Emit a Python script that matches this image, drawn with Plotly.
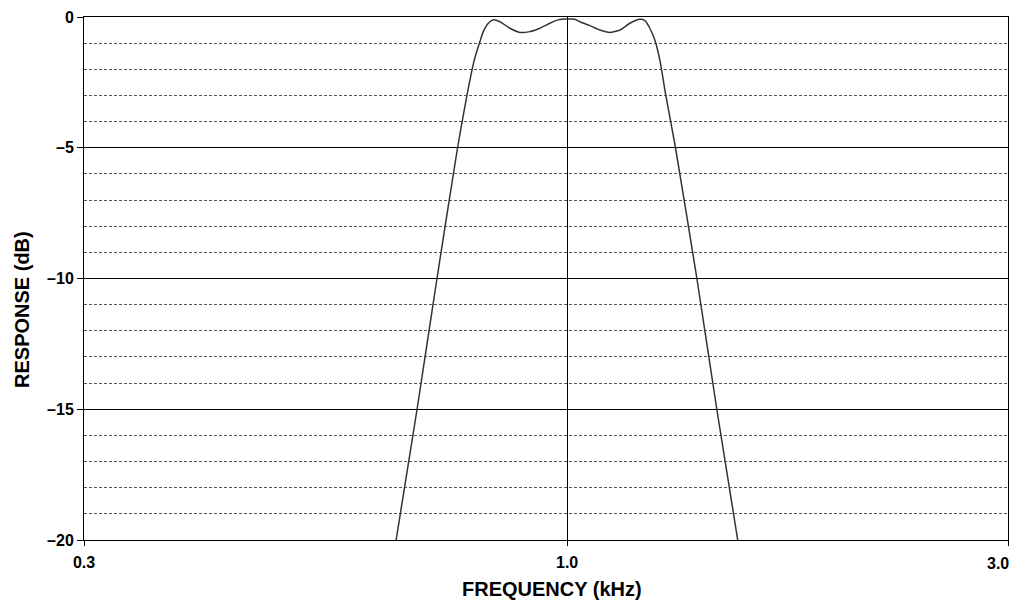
import numpy as np
import plotly.graph_objects as go

# filter response (frequency in kHz, response in dB)
freq_khz = [0.653, 0.688, 0.723, 0.761, 0.779, 0.7935, 0.8047, 0.8114, 0.8216, 0.8318,
            0.8457, 0.8671, 0.8889, 0.9113, 0.9343, 0.9578, 0.9778, 1.0, 1.0194,
            1.0321, 1.0582, 1.0849, 1.1122, 1.1403, 1.1692, 1.1986, 1.2136, 1.2288,
            1.2442, 1.2598, 1.2788, 1.3100, 1.3817, 1.4520, 1.5297]
response_db = [-20, -15, -10, -5, -3, -1.64, -0.94, -0.56, -0.24, -0.11,
               -0.18, -0.43, -0.59, -0.56, -0.43, -0.24, -0.11, -0.08, -0.09,
               -0.18, -0.33, -0.50, -0.59, -0.50, -0.24, -0.09, -0.14, -0.43,
               -0.88, -1.64, -3, -5, -10, -15, -20]

x_tickvals = [0.3, 1.0, 3.0]
x_ticktext = ['0.3', '1.0', '']  # 3.0 is drawn as an annotation so it stays inside the page
y_tickvals = [0, -5, -10, -15, -20]
y_ticktext = ['0', '\u20135', '\u201310', '\u201315', '\u201320']

font = 'Liberation Sans, Arial, sans-serif'

trace = go.Scatter(x=freq_khz, y=response_db, mode='lines',
                   line=dict(color='#333333', width=1.5, shape='spline', smoothing=0.5),
                   showlegend=False, hoverinfo='x+y')

layout = go.Layout(
    width=1015, height=601,
    margin=dict(l=84, r=7, t=17, b=61),
    paper_bgcolor='white', plot_bgcolor='white',
    xaxis=dict(type='log', range=[np.log10(0.3), np.log10(3.0)],
               tickvals=x_tickvals, ticktext=x_ticktext,
               showgrid=True, gridcolor='black', gridwidth=1,
               showline=True, linecolor='black', linewidth=1, mirror=True,
               ticks='outside', ticklen=5, tickcolor='black',
               tickfont=dict(family=font, size=16, color='black', weight='bold'),
               ticklabelstandoff=3, automargin=False,
               zeroline=False),
    yaxis=dict(range=[-20, 0], tickvals=y_tickvals, ticktext=y_ticktext,
               showgrid=True, gridcolor='black', gridwidth=1,
               minor=dict(tick0=0, dtick=1, showgrid=True, gridcolor='#555555',
                          griddash='3px,2px', gridwidth=1, ticks=''),
               showline=True, linecolor='black', linewidth=1, mirror=True,
               ticks='outside', ticklen=6, tickcolor='black',
               tickfont=dict(family=font, size=16, color='black', weight='bold'),
               automargin=False, zeroline=False),
    annotations=[
        dict(text='3.0', xref='paper', yref='paper', x=0.989, y=-0.044,
             xanchor='center', yanchor='middle', showarrow=False,
             font=dict(family=font, size=16, color='black', weight='bold')),
        dict(text='FREQUENCY (kHz)', xref='paper', yref='paper', x=0.5065, y=-0.094,
             xanchor='center', yanchor='middle', showarrow=False,
             font=dict(family=font, size=20, color='black', weight='bold')),
        dict(text='RESPONSE (dB)', xref='paper', yref='paper', x=-0.067, y=0.44,
             xanchor='center', yanchor='middle', textangle=-90, showarrow=False,
             font=dict(family=font, size=20, color='black', weight='bold')),
    ],
)

fig = go.Figure(data=[trace], layout=layout)
fig.write_html("out.html", config={'displayModeBar': False},
               post_script="document.body.style.margin='0';")
